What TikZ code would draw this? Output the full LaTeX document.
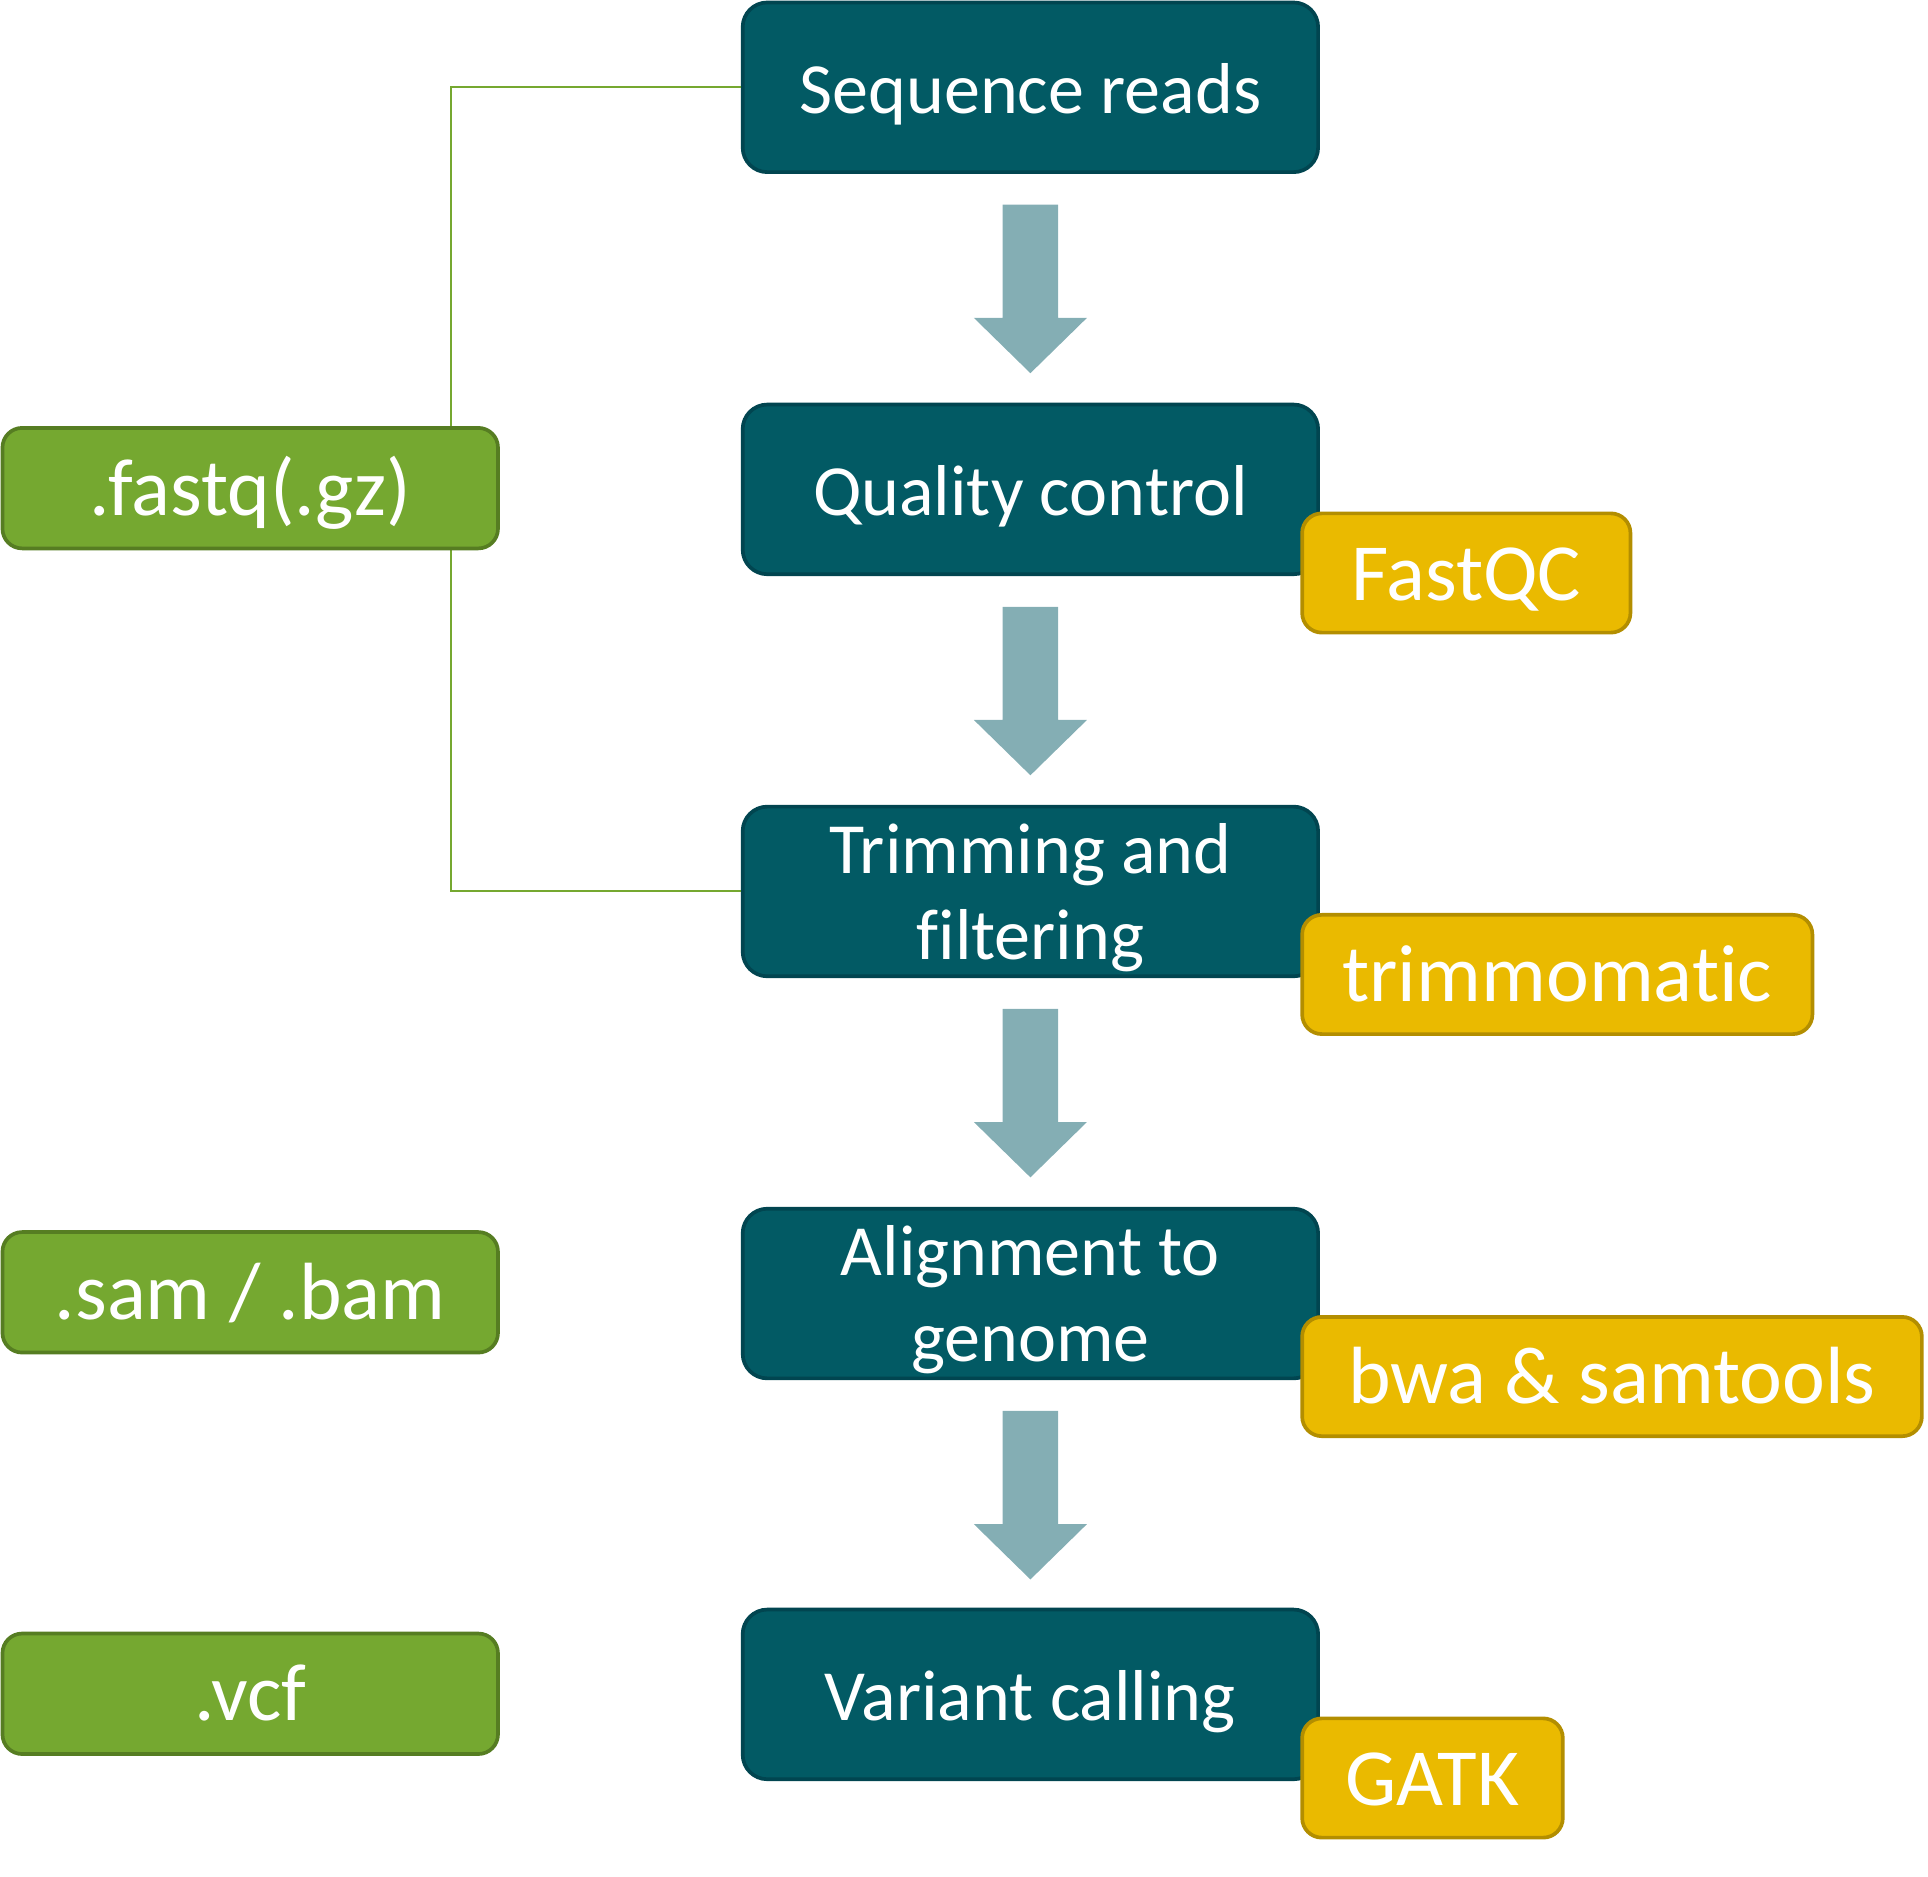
\documentclass[tikz,border=0pt]{standalone}
\usepackage{fontspec}
\setmainfont{Carlito}[Ligatures=CommonOff]
\usetikzlibrary{calc}
\definecolor{teal}{HTML}{025A64}
\definecolor{tealdark}{HTML}{014550}
\definecolor{arrowc}{HTML}{84AEB4}
\definecolor{yellowf}{HTML}{EABA00}
\definecolor{yellowd}{HTML}{B38E00}
\definecolor{greenf}{HTML}{75A830}
\definecolor{greend}{HTML}{567D22}
\tikzset{
  stepbox/.style={draw=tealdark, fill=teal, line width=1.5pt, rounded corners=10pt,
    minimum width=234pt, minimum height=69pt, inner sep=0pt, text=white,
    text height=21pt, text depth=0pt,
    font=\fontsize{29.3}{35}\selectfont},
  twoline/.style={text height=21pt, text depth=36pt},
  toolbox/.style={draw=yellowd, fill=yellowf, line width=1.5pt, rounded corners=8pt,
    minimum height=48.5pt, inner sep=0pt, text=white,
    text height=22pt, text depth=0pt,
    font=\fontsize{33}{40}\selectfont},
  filebox/.style={draw=greend, fill=greenf, line width=1.5pt, rounded corners=8pt,
    minimum width=201.5pt, minimum height=49pt, inner sep=0pt, text=white,
    text height=22pt, text depth=0pt,
    font=\fontsize{33}{40}\selectfont},
  linkline/.style={draw=greenf, line width=0.8pt},
  blockarrow/.style={fill=arrowc}
}
\newcommand{\flowarrow}[1]{%
  \fill[blockarrow] ($(#1.south)+(-22.5,25)$) -- ++(45,0) -- ++(0,92) -- ++(23.5,0)
    -- ++(-46,45) -- ++(-46,-45) -- ++(23.5,0) -- cycle;}
\newcommand{\twolines}[2]{\begin{tabular}[t]{@{}c@{}}#1\\#2\end{tabular}}
\begin{document}
\begin{tikzpicture}[x=0.5pt,y=-0.5pt]
\useasboundingbox (0,0) rectangle (1568,1526);
% main steps
\node[stepbox] (b1) at (838,71) {Sequence reads};
\node[stepbox] (b2) at (838,398) {Quality control};
\node[stepbox, twoline] (b3) at (838,725) {\twolines{Trimming and}{filtering}};
\node[stepbox, twoline] (b4) at (838,1052) {\twolines{Alignment to}{genome}};
\node[stepbox] (b5) at (838,1378) {Variant calling};
% link line
\draw[linkline] (b1.west) -- ++(-236,0) coordinate (lc) |- (b3.west);
% file boxes
\node[filebox] (f1) at (203.5,397) {.fastq(.gz)};
\node[filebox] (f2) at (203.5,1051) {.sam / .bam};
\node[filebox] (f3) at (203.5,1377.5) {.vcf};
% tool boxes
\node[toolbox, minimum width=133.5pt] (t1) at (1192.5,466) {FastQC};
\node[toolbox, minimum width=207.5pt] (t2) at (1266.5,792.5) {trimmomatic};
\node[toolbox, minimum width=252pt] (t3) at (1311,1119.5) {bwa \& samtools};
\node[toolbox, minimum width=106pt] (t4) at (1165,1446) {GATK};
% arrows
\flowarrow{b1}
\flowarrow{b2}
\flowarrow{b3}
\flowarrow{b4}
\end{tikzpicture}
\end{document}
